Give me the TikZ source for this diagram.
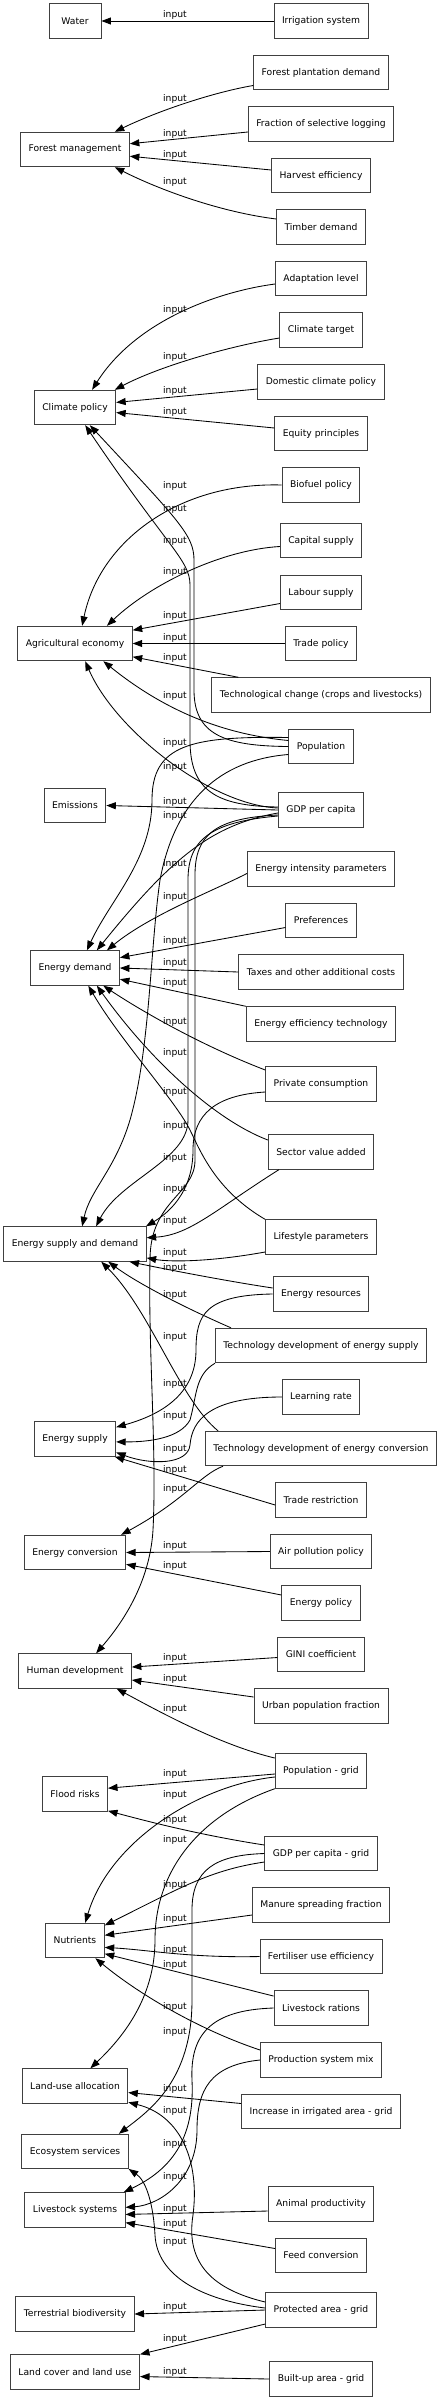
\documentclass[tikz,border=0pt]{standalone}
\usepackage{fontspec}
\setmainfont{DejaVu Sans}
\usetikzlibrary{arrows.meta}

\begin{document}
\begin{tikzpicture}[
  x=1pt, y=-1pt,
  box/.style={draw=black!75, line width=0.9pt, minimum width=52pt, minimum height=34.5pt, inner xsep=8pt, font=\fontsize{9.2}{11}\selectfont},
  lbl/.style={font=\fontsize{9.2}{11}\selectfont, inner sep=0pt},
  arrow/.style={-{Triangle[length=9.5pt,width=7pt]}, line width=0.85pt},
]
\useasboundingbox (0,0) rectangle (442,2400);

% Model components (left column)
\node[box] (water) at (75,21) {Water};
\node[box] (forestmgmt) at (75,149.5) {Forest management};
\node[box] (climpol) at (75,407.5) {Climate policy};
\node[box] (agrecon) at (75,643.5) {Agricultural economy};
\node[box] (emissions) at (75,805.5) {Emissions};
\node[box] (endemand) at (75,968) {Energy demand};
\node[box] (ensupdem) at (75,1244) {Energy supply and demand};
\node[box] (ensupply) at (75,1439) {Energy supply};
\node[box] (enconv) at (75,1552.5) {Energy conversion};
\node[box] (humdev) at (75,1671) {Human development};
\node[box] (flood) at (75,1794) {Flood risks};
\node[box] (nutrients) at (75,1940.5) {Nutrients};
\node[box] (landalloc) at (75,2086) {Land-use allocation};
\node[box] (ecoserv) at (75,2151.5) {Ecosystem services};
\node[box] (livesys) at (75,2210) {Livestock systems};
\node[box] (terrbio) at (75,2314) {Terrestrial biodiversity};
\node[box] (landcover) at (75,2372) {Land cover and land use};

% Drivers (right column)
\node[box] (irrig) at (321,21) {Irrigation system};
\node[box] (forplant) at (321,72.5) {Forest plantation demand};
\node[box] (fracsel) at (321,124) {Fraction of selective logging};
\node[box] (harvest) at (321,175.5) {Harvest efficiency};
\node[box] (timber) at (321,227) {Timber demand};
\node[box] (adapt) at (321,278.5) {Adaptation level};
\node[box] (climtarget) at (321,330) {Climate target};
\node[box] (domclim) at (321,382) {Domestic climate policy};
\node[box] (equity) at (321,433.5) {Equity principles};
\node[box] (biofuel) at (321,485) {Biofuel policy};
\node[box] (capital) at (321,540.5) {Capital supply};
\node[box] (labour) at (321,592.5) {Labour supply};
\node[box] (tradepol) at (321,643.5) {Trade policy};
\node[box] (techchange) at (321,695) {Technological change (crops and livestocks)};
\node[box] (population) at (321,746.5) {Population};
\node[box] (gdp) at (321,810) {GDP per capita};
\node[box] (enintens) at (321,869) {Energy intensity parameters};
\node[box] (preferences) at (321,920.5) {Preferences};
\node[box] (taxes) at (321,972) {Taxes and other additional costs};
\node[box] (eneff) at (321,1024) {Energy efficiency technology};
\node[box] (privcons) at (321,1084) {Private consumption};
\node[box] (sectorva) at (321,1152) {Sector value added};
\node[box] (lifestyle) at (321,1237) {Lifestyle parameters};
\node[box] (enres) at (321,1294) {Energy resources};
\node[box] (tdes) at (321,1345.5) {Technology development of energy supply};
\node[box] (learning) at (321,1397) {Learning rate};
\node[box] (tdec) at (321,1448.5) {Technology development of energy conversion};
\node[box] (traderes) at (321,1500) {Trade restriction};
\node[box] (airpol) at (321,1551.5) {Air pollution policy};
\node[box] (enpol) at (321,1603) {Energy policy};
\node[box] (gini) at (321,1654.5) {GINI coefficient};
\node[box] (urbpop) at (321,1706) {Urban population fraction};
\node[box] (popgrid) at (321,1771) {Population - grid};
\node[box] (gdpgrid) at (321,1853.5) {GDP per capita - grid};
\node[box] (manure) at (321,1905) {Manure spreading fraction};
\node[box] (fertiliser) at (321,1956.5) {Fertiliser use efficiency};
\node[box] (livrations) at (321,2008) {Livestock rations};
\node[box] (prodmix) at (321,2060) {Production system mix};
\node[box] (irrarea) at (321,2111.5) {Increase in irrigated area - grid};
\node[box] (animalprod) at (321,2204) {Animal productivity};
\node[box] (feedconv) at (321,2255.5) {Feed conversion};
\node[box] (protected) at (321,2310) {Protected area - grid};
\node[box] (builtup) at (321,2379) {Built-up area - grid};

% Edge labels
\foreach \ly [count=\i] in {15,99,134,155,182,310,357,391,412,486,509,541,572,616,638,658,696,743,767,802,816,864,897,941,963,983,1022,1053,1092,1126,1158,1189,1221,1253,1268,1295,1337,1384,1416,1449,1470,1489,1546,1566,1658,1679,1709,1774,1795,1820,1840,1885,1919,1950,1965,2007,2032,2089,2111,2144,2177,2209,2224,2242,2307,2339,2372}
  \node[lbl] (in\i) at (175,\ly) {input};

% Water and forest
\draw[arrow] (irrig.west) -- (water.east);
\draw[arrow] ([yshift=-13pt]forplant.west) .. controls (215,92) and (160,110) .. (forestmgmt.24);
\draw[arrow] ([yshift=-8pt]fracsel.west) -- (forestmgmt.6);
\draw[arrow] ([yshift=5.5pt]harvest.west) -- (forestmgmt.-7);
\draw[arrow] ([yshift=8pt]timber.west) .. controls (220,212) and (160,190) .. (forestmgmt.-24);

% Climate policy
\draw[arrow] ([yshift=-5.5pt]adapt.west) .. controls (215,292) and (135,322) .. (climpol.46);
\draw[arrow] ([yshift=-8pt]climtarget.west) .. controls (230,346) and (160,366) .. (climpol.24);
\draw[arrow] ([yshift=-7pt]domclim.west) -- (climpol.7);
\draw[arrow] ([yshift=5.5pt]equity.west) -- (climpol.-7);
\draw[arrow] (population.west) .. controls (225,746) and (194,735) .. (194,690) -- (194,560) .. controls (194,535) and (178,520) .. (climpol.-50);
\draw[arrow] ([yshift=3pt]gdp.west) .. controls (215,806) and (190,790) .. (190,740) -- (190,585) .. controls (190,560) and (168,548) .. (climpol.-60);

% Agricultural economy
\draw[arrow] (biofuel.west) .. controls (180,482) and (100,540) .. (agrecon.68);
\draw[arrow] ([yshift=-6pt]capital.west) .. controls (220,550) and (150,585) .. (agrecon.29);
\draw[arrow] ([yshift=-11pt]labour.west) -- (agrecon.13);
\draw[arrow] (tradepol.west) -- (agrecon.east);
\draw[arrow] ([xshift=27pt]techchange.north west) -- (agrecon.-13);
\draw[arrow] ([yshift=6pt]population.west) .. controls (230,735) and (170,715) .. (agrecon.-32);
\draw[arrow] ([yshift=2pt]gdp.west) .. controls (210,805) and (115,730) .. (agrecon.-60);
\draw[arrow] (gdp.west) -- (emissions.east);

% Energy demand
\draw[arrow] ([yshift=9pt]population.west) .. controls (190,736) and (152,745) .. (152,800) .. controls (152,860) and (110,900) .. (endemand.56);
\draw[arrow] ([yshift=-3pt]gdp.west) .. controls (210,825) and (170,860) .. (endemand.39);
\draw[arrow] ([yshift=-4.5pt]enintens.west) .. controls (215,890) and (150,915) .. (endemand.29);
\draw[arrow] ([yshift=-7pt]preferences.west) -- (endemand.13);
\draw[arrow] (taxes.west) -- (endemand.east);
\draw[arrow] (eneff.north west) -- (endemand.-14);
\draw[arrow] ([yshift=14pt]privcons.west) .. controls (200,1045) and (140,1010) .. (endemand.-32);
\draw[arrow] ([yshift=12pt]sectorva.west) .. controls (215,1120) and (150,1060) .. (endemand.-39);
\draw[arrow] (lifestyle.north west) .. controls (215,1190) and (200,1150) .. (190,1130) .. controls (175,1100) and (120,1040) .. (endemand.-53);

% Energy supply and demand
\draw[arrow] ([yshift=-8pt]population.west) .. controls (220,760) and (175,800) .. (160,880) .. controls (150,950) and (150,1050) .. (130,1120) .. controls (115,1170) and (90,1190) .. (ensupdem.68);
\draw[arrow] ([yshift=-6pt]gdp.west) .. controls (210,822) and (188,840) .. (188,880) -- (188,1120) .. controls (188,1160) and (120,1180) .. (ensupdem.40);
\draw[arrow] ([yshift=-8pt]privcons.west) .. controls (215,1095) and (193,1115) .. (193,1150) .. controls (193,1195) and (165,1215) .. (ensupdem.14);
\draw[arrow] ([xshift=11pt]sectorva.south west) .. controls (215,1210) and (190,1235) .. (ensupdem.5);
\draw[arrow] ([yshift=-15pt]lifestyle.west) .. controls (210,1262) and (170,1262) .. (ensupdem.-11);
\draw[arrow] ([yshift=6pt]enres.west) .. controls (220,1280) and (160,1268) .. (ensupdem.-18);
\draw[arrow] ([xshift=16pt]tdes.north west) .. controls (190,1310) and (140,1285) .. (ensupdem.-28);
\draw[arrow] ([xshift=13pt]tdec.north west) .. controls (180,1400) and (150,1310) .. (ensupdem.-34);

% Energy supply and conversion
\draw[arrow] (enres.west) .. controls (205,1295) and (196,1315) .. (196,1350) .. controls (196,1395) and (160,1415) .. (ensupply.16);
\draw[arrow] (tdes.south west) .. controls (195,1375) and (197,1395) .. (190,1420) .. controls (180,1438) and (150,1442) .. (ensupply.-4);
\draw[arrow] (learning.west) .. controls (210,1397) and (192,1420) .. (190,1445) .. controls (188,1465) and (150,1465) .. (ensupply.-18);
\draw[arrow] ([yshift=-5pt]traderes.west) -- (ensupply.-24);
\draw[arrow] ([xshift=18pt]tdec.south west) .. controls (200,1475) and (185,1500) .. (enconv.21);
\draw[arrow] (airpol.west) -- (enconv.east);
\draw[arrow] ([yshift=8pt]enpol.west) -- (enconv.-13);

% Human development
\draw[arrow] ([yshift=-5pt]gdp.west) .. controls (215,818) and (195,835) .. (195,875) -- (195,1160) .. controls (195,1195) and (150,1200) .. (150,1260) .. controls (148,1350) and (157,1450) .. (153,1530) .. controls (150,1580) and (125,1620) .. (humdev.40);
\draw[arrow] ([yshift=-3pt]gini.west) -- (humdev.4);
\draw[arrow] ([yshift=9pt]urbpop.west) -- (humdev.-9);
\draw[arrow] ([yshift=13pt]popgrid.west) .. controls (220,1745) and (160,1712) .. (humdev.-23);

% Flood risks and nutrients
\draw[arrow] ([yshift=-3pt]popgrid.west) -- (flood.10);
\draw[arrow] ([yshift=8.5pt]gdpgrid.west) .. controls (200,1835) and (150,1822) .. (flood.-27);
\draw[arrow] ([yshift=-6pt]popgrid.west) .. controls (200,1785) and (110,1840) .. (nutrients.60);
\draw[arrow] ([yshift=-8.5pt]gdpgrid.west) .. controls (210,1870) and (180,1888) .. (nutrients.27);
\draw[arrow] ([yshift=-10pt]manure.west) -- (nutrients.10);
\draw[arrow] (fertiliser.west) .. controls (190,1958) and (150,1950) .. (nutrients.-13);
\draw[arrow] ([yshift=12pt]livrations.west) -- (nutrients.-24);
\draw[arrow] ([yshift=10pt]prodmix.west) .. controls (200,2030) and (140,1995) .. (nutrients.-41);

% Land use, ecosystems, livestock
\draw[arrow] (popgrid.south west) .. controls (200,1815) and (155,1870) .. (155,1940) .. controls (155,2000) and (120,2040) .. (landalloc.49);
\draw[arrow] ([yshift=8pt]irrarea.west) -- (landalloc.-7);
\draw[arrow] ([yshift=8pt]protected.west) .. controls (215,2290) and (185,2265) .. (193,2215) .. controls (200,2160) and (180,2115) .. (landalloc.-17);
\draw[arrow] (gdpgrid.west) .. controls (215,1855) and (192,1870) .. (192,1910) -- (192,2000) .. controls (192,2080) and (150,2110) .. (ecoserv.22);
\draw[arrow] ([yshift=2pt]protected.west) .. controls (200,2300) and (157,2275) .. (155,2235) .. controls (153,2200) and (145,2180) .. (ecoserv.-18);
\draw[arrow] (livrations.west) .. controls (210,2010) and (190,2035) .. (192,2080) .. controls (195,2140) and (170,2170) .. (livesys.20);
\draw[arrow] (prodmix.west) .. controls (210,2065) and (197,2090) .. (197,2130) .. controls (197,2180) and (160,2205) .. (livesys.3);
\draw[arrow] ([yshift=-7pt]animalprod.west) -- (livesys.-5);
\draw[arrow] ([yshift=7pt]feedconv.west) -- (livesys.-14);
\draw[arrow] (protected.west) -- (terrbio.east);
\draw[arrow] ([yshift=-14pt]protected.west) -- (landcover.north east);
\draw[arrow] (builtup.west) -- (landcover.-4);

\end{tikzpicture}
\end{document}
